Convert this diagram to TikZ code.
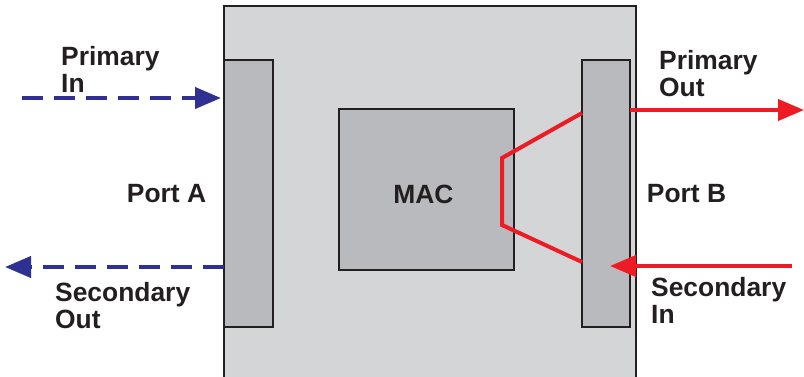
\documentclass[tikz,border=0pt]{standalone}
\usepackage{fontspec}
\setmainfont{Liberation Sans}
\usetikzlibrary{arrows.meta}
\definecolor{boxgray}{HTML}{D4D5D7}
\definecolor{portgray}{HTML}{B9BABD}
\definecolor{ink}{HTML}{231F20}
\definecolor{dblue}{HTML}{2E3192}
\definecolor{lred}{HTML}{ED1C24}
\begin{document}
\begin{tikzpicture}[x=1pt,y=-1pt,
  box/.style={draw=ink,line width=2.2pt,inner sep=0pt,outer sep=0pt,anchor=north west},
  lbl/.style={font=\fontsize{26.4}{27.5}\selectfont\bfseries,text=ink,inner sep=0pt},
  blk/.style={draw=dblue,line width=4pt,dash pattern=on 21pt off 11pt,-{Triangle[length=26pt,width=21pt]}},
  rline/.style={draw=lred,line width=4pt,line join=miter},
  rarrow/.style={rline,-{Triangle[length=26pt,width=21pt]}}]
\useasboundingbox (0,0) rectangle (804,376);
\node[box,fill=boxgray,minimum width=412,minimum height=376] (chassis) at (224,6) {};
\node[box,fill=portgray,minimum width=49,minimum height=267] (portA) at (224,60) {};
\node[box,fill=portgray,minimum width=48,minimum height=267] (portB) at (582,60) {};
\node[box,fill=portgray,minimum width=175,minimum height=161] (mac) at (339,109) {};
\node[lbl] (macl) at (423.5,194.5) {MAC};
\node[lbl] (pal) at (166.5,193.5) {Port A};
\node[lbl] (pbl) at (686.5,193.5) {Port B};
\node[lbl,align=left,anchor=north west] (pinl) at (61,46) {Primary\\In};
\node[lbl,align=left,anchor=north west] (soutl) at (55,282) {Secondary\\Out};
\node[lbl,align=left,anchor=north west] (poutl) at (659,50) {Primary\\Out};
\node[lbl,align=left,anchor=north west] (sinl) at (651,277) {Secondary\\In};
% blue dashed
\coordinate (pinS) at (22,98);
\coordinate (soutE) at (5,267);
\draw[blk,shorten >=3pt] (pinS) -- (portA.west |- pinS);
\draw[blk] (portA.west |- soutE) -- (soutE);
% red
\coordinate (poutE) at (804,110);
\coordinate (sinS) at (792,266);
\coordinate (sinE) at (610,266);
\coordinate (r1) at (502,158);
\coordinate (r2) at (502,225);
\draw[rline] (portB.west |- 0,113) -- (r1) -- (r2) -- (portB.west |- 0,262);
\draw[rarrow] (portB.east |- poutE) -- (poutE);
\draw[rarrow] (sinS) -- (sinE);
\end{tikzpicture}
\end{document}
